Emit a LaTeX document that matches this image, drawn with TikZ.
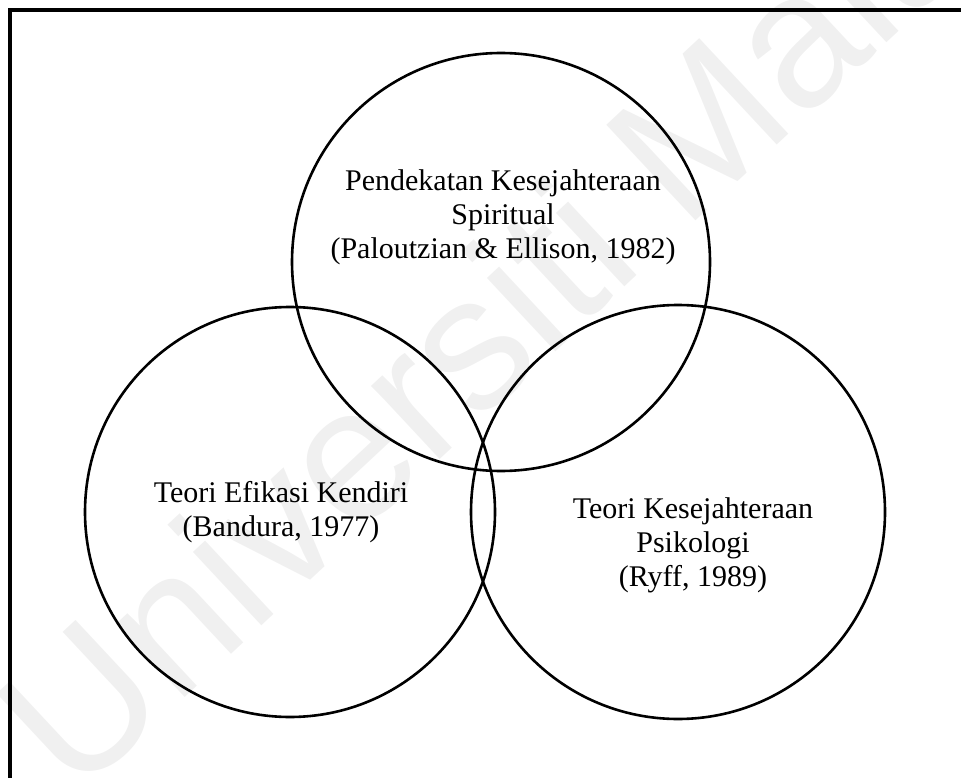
\documentclass[tikz,border=0pt]{standalone}
\usepackage{fontspec}
\setmainfont{Liberation Serif}
\newfontfamily\markfont{Liberation Sans}
\begin{document}
\begin{tikzpicture}[x=1pt,y=-1pt,
  ring/.style={circle,draw=black,line width=2.6pt,inner sep=0pt,outer sep=0pt},
  label/.style={align=center,font=\fontsize{30}{34}\selectfont,inner sep=0pt},
  watermark/.style={font=\markfont\fontsize{190}{190}\selectfont,text=black!6,
    anchor=base west,rotate=43,inner sep=0pt}]
  \useasboundingbox (0,0) rectangle (961,778);
  % faint watermark behind everything
  \node[watermark] (mark) at (75,800) {Universiti Malaya};
  % outer frame (top and left edges)
  \draw[line width=4pt,line join=miter] (10,800) -- (10,10) -- (975,10);
  % the three overlapping theory circles
  \node[ring,minimum size=418pt] (spiritual) at (501,262) {};
  \node[ring,minimum size=410pt] (efikasi) at (290,512) {};
  \node[ring,minimum size=414pt] (psikologi) at (678,512) {};
  % labels
  \node[label] (tSpiritual) at (503,217) {Pendekatan Kesejahteraan\\Spiritual\\(Paloutzian \& Ellison, 1982)};
  \node[label] (tEfikasi) at (281,512) {Teori Efikasi Kendiri\\(Bandura, 1977)};
  \node[label] (tPsikologi) at (693,545) {Teori Kesejahteraan\\Psikologi\\(Ryff, 1989)};
\end{tikzpicture}
\end{document}
